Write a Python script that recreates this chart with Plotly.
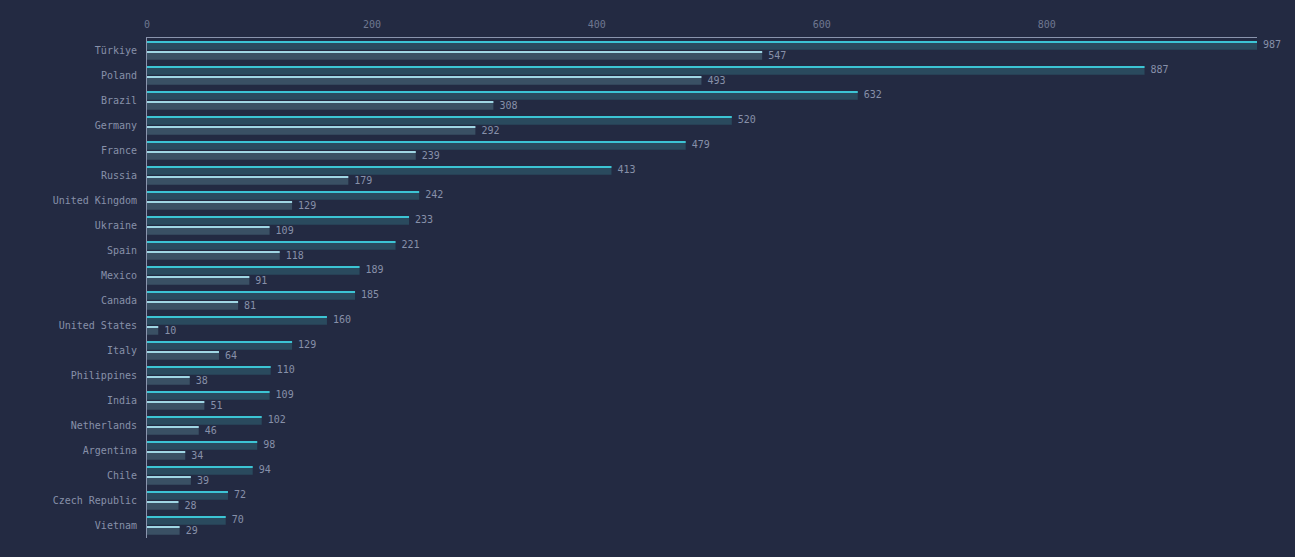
import plotly.graph_objects as go

countries = ["Türkiye", "Poland", "Brazil", "Germany", "France", "Russia",
             "United Kingdom", "Ukraine", "Spain", "Mexico", "Canada",
             "United States", "Italy", "Philippines", "India", "Netherlands",
             "Argentina", "Chile", "Czech Republic", "Vietnam"]
series_a = [987, 887, 632, 520, 479, 413, 242, 233, 221, 189, 185, 160, 129,
            110, 109, 102, 98, 94, 72, 70]
series_b = [547, 493, 308, 292, 239, 179, 129, 109, 118, 91, 81, 10, 64, 38,
            51, 46, 34, 39, 28, 29]
x_ticks = [0, 200, 400, 600, 800]

BG = "#232a42"
FILL_A = "#2a4a5e"
LINE_A = "#3cc4d4"
FILL_B = "#3a5064"
LINE_B = "#9fd6e4"
TXT = "#8790a9"
FONT = "DejaVu Sans Mono"

idx = list(range(len(countries)))

OFF_A, W = -0.37, 0.335
OFF_B = 0.035
EDGE = 0.06

fig = go.Figure()
for vals, off, fill, line in [(series_a, OFF_A, FILL_A, LINE_A),
                              (series_b, OFF_B, FILL_B, LINE_B)]:
    fig.add_trace(go.Bar(x=vals, y=idx, orientation="h", offset=off, width=W,
                         marker=dict(color=fill, line=dict(width=0)),
                         hoverinfo="skip", showlegend=False))
    fig.add_trace(go.Bar(x=vals, y=idx, orientation="h", offset=off, width=EDGE,
                         marker=dict(color=line, line=dict(width=0)),
                         hoverinfo="skip", showlegend=False))
    fig.add_trace(go.Scatter(x=vals, y=[i + off + W / 2 + 0.02 for i in idx],
                             mode="text", text=[" " + str(v) for v in vals],
                             textposition="middle right",
                             textfont=dict(family=FONT, size=10, color=TXT),
                             cliponaxis=False, hoverinfo="skip",
                             showlegend=False))

fig.update_layout(
    width=1295, height=557,
    paper_bgcolor=BG, plot_bgcolor=BG,
    margin=dict(l=147, r=38, t=38, b=19),
    barmode="overlay",
    font=dict(family=FONT, color=TXT, size=10),
    xaxis=dict(side="top", range=[0, 987], tickvals=x_ticks,
               ticktext=[str(t) for t in x_ticks], showgrid=False,
               zeroline=False, showline=True, linecolor="#8a94ad",
               linewidth=1, ticks="", ticklabelstandoff=5,
               tickfont=dict(family=FONT, size=10, color="#6f7891")),
    yaxis=dict(range=[19.5, -0.5], tickvals=idx, ticktext=countries,
               showgrid=False, zeroline=False, showline=True,
               linecolor="#8a94ad", linewidth=1, ticks="",
               ticklabelstandoff=7,
               tickfont=dict(family=FONT, size=10, color=TXT)),
)

fig.write_html("out.html")
